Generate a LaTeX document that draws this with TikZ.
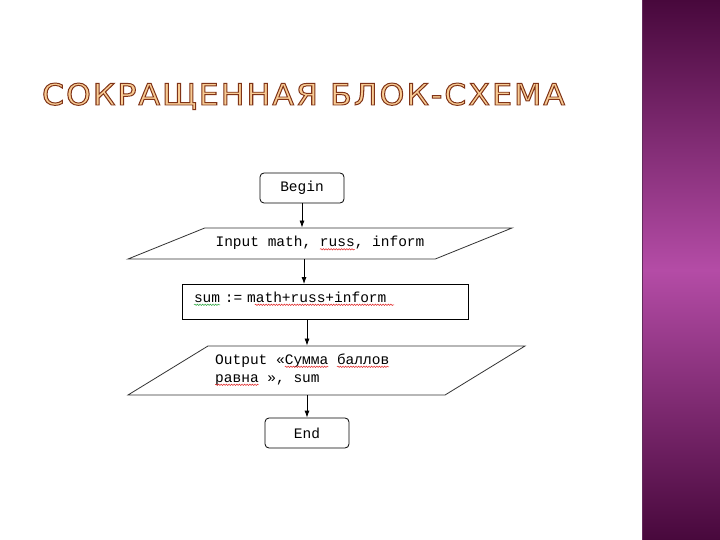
\documentclass[tikz,border=0pt]{standalone}
\usepackage{fontspec}
\setmainfont{Liberation Serif}
\newfontfamily\codefont{Liberation Mono}
\newfontfamily\titlefont[LetterSpace=6]{DejaVu Sans}
\usepackage{graphicx}
\usetikzlibrary{shapes.geometric, arrows.meta, positioning, calc, decorations.pathmorphing}
\definecolor{banddark}{RGB}{72,8,60}
\definecolor{bandmid}{RGB}{180,76,166}
\definecolor{titlefill}{RGB}{248,204,148}
\definecolor{spellred}{RGB}{225,35,35}
\definecolor{spellgreen}{RGB}{40,165,60}
% filled and stroked letters (stroke 0.5 0.2 0.09)
\newcommand\outlined[1]{{\color{titlefill}\special{pdf:code 2 Tr 0.32 w 0.5 0.2 0.09 RG}#1\special{pdf:code 0 Tr}}}

\tikzset{
  codefnt/.style={font=\codefont\fontsize{14.5}{18}\selectfont},
  termbox/.style={draw, line width=0.8pt, rounded corners=4pt, minimum width=84pt, minimum height=30pt, codefnt},
  iobox/.style={draw=black!80, line width=0.8pt, trapezium, trapezium stretches body, inner xsep=0pt, codefnt},
  procbox/.style={draw, line width=0.9pt, minimum height=35pt, text width=262pt, inner xsep=12pt, align=left, text height=9pt, text depth=9pt, codefnt},
  codetext/.style={inner sep=0pt, codefnt},
  flow/.style={line width=0.8pt, -{Latex[length=7pt,width=5pt]}},
  spell/.style={line width=0.5pt, decorate, decoration={snake, segment length=2.6pt, amplitude=0.7pt}}
}
% wavy spell-check mark under characters #3..#4 of node #2
\newcommand\spellmark[4]{%
  \draw[spell, #1] ([xshift=#3*8.7pt, yshift=-2.8pt]#2.text) -- ([xshift=#4*8.7pt, yshift=-2.8pt]#2.text);}

\begin{document}
\begin{tikzpicture}[x=1pt, y=-1pt]
\useasboundingbox (0,0) rectangle (720,540);
\fill[white] (0,0) rectangle (720,540);

% side band
\fill[top color=banddark, bottom color=banddark, middle color=bandmid] (642,0) rectangle (720,540);
\draw[line width=1.4pt, black!45!bandmid] (642.7,0) -- (642.7,540);

% title
\node[font=\titlefont, inner sep=0pt, anchor=base] (title) at (303.5,105)
  {\resizebox{523pt}{22pt}{\outlined{СОКРАЩЕННАЯ БЛОК-СХЕМА}}};

% blocks
\node[termbox] (begin) at (302,188) {Begin};
\node[iobox, minimum width=384pt, text height=9pt, text depth=3pt, inner ysep=9.5pt, trapezium left angle=22, trapezium right angle=158] (input) at (320,243.5) {Input math, russ, inform};
\node[procbox] (calc) at (325,302) {sum := math+russ+inform};
\node[iobox, minimum width=397pt, text height=24.5pt, text depth=24.5pt, inner ysep=0pt, trapezium left angle=31.5, trapezium right angle=148.5] (output) at (326.5,370.5) {};
\node[codetext, anchor=base west] (outA) at (215,364) {Output «Сумма баллов};
\node[codetext, anchor=base west] (outB) at (215,382) {равна », sum};
\node[termbox] (end) at (307,433) {End};

% connectors
\draw[flow] (begin.south) -- (begin.south |- input.north);
\draw[flow] ([xshift=-16pt]input.south) -- ([xshift=-16pt]input.south |- calc.north);
\draw[flow] (end.north |- calc.south) -- (end.north |- output.north);
\draw[flow] (end.north |- output.south) -- (end.north);

% spell-check marks
\spellmark{spellred}{input}{12}{16}
\spellmark{spellgreen}{calc}{0}{3}
\spellmark{spellred}{calc}{7}{23}
\spellmark{spellred}{outA}{8}{13}
\spellmark{spellred}{outA}{14}{20}
\spellmark{spellred}{outB}{0}{5}
\end{tikzpicture}
\end{document}
